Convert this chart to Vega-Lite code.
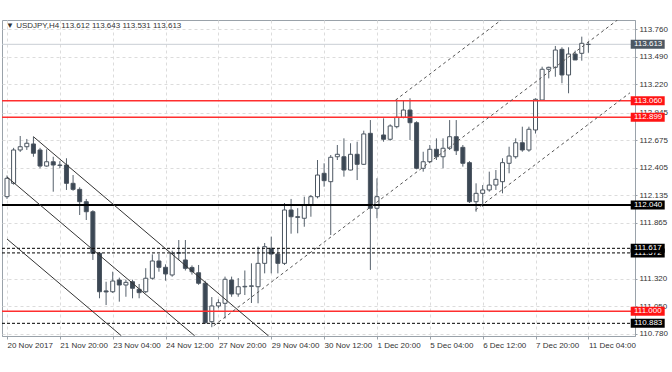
{
"$schema":"https://vega.github.io/schema/vega-lite/v6.json",
"width":633,"height":316,
"autosize":{"type":"none"},
"padding":{"left":2,"top":20,"right":37,"bottom":36},
"background":"white",
"config":{"view":{"stroke":"#9aa2aa","strokeWidth":1},"font":"Liberation Sans",
 "axis":{"grid":true,"gridDash":[3,3],"gridColor":"#dcdcdc","gridWidth":1,"labelOverlap":false,"labelFlush":false,"labelFontSize":8,"labelColor":"#333333","labelPadding":2,"domainColor":"#9aa2aa","tickColor":"#9aa2aa","title":null},
 "axisX":{"labelAlign":"left","tickSize":3},
 "axisY":{"tickSize":2,"labelOverlap":false,"labelSeparation":0}},
"title":{"text":"▼ USDJPY,H4  113.612 113.643 113.531 113.613","anchor":"start","frame":"group","offset":-10,"fontSize":8,"fontWeight":"normal","color":"#333333","dx":4,"font":"Liberation Sans"},
"datasets":{
"candles":[
{"i":0,"o":112.122,"h":112.33,"l":112.10,"c":112.302},
{"i":1,"o":112.253,"h":112.60,"l":112.24,"c":112.579},
{"i":2,"o":112.579,"h":112.716,"l":112.56,"c":112.611},
{"i":3,"o":112.611,"h":112.687,"l":112.58,"c":112.645},
{"i":4,"o":112.638,"h":112.709,"l":112.513,"c":112.547},
{"i":5,"o":112.579,"h":112.60,"l":112.40,"c":112.422},
{"i":6,"o":112.422,"h":112.586,"l":112.416,"c":112.464},
{"i":7,"o":112.464,"h":112.513,"l":112.171,"c":112.432},
{"i":8,"o":112.432,"h":112.47,"l":112.40,"c":112.428},
{"i":9,"o":112.432,"h":112.498,"l":112.188,"c":112.253},
{"i":10,"o":112.253,"h":112.334,"l":112.18,"c":112.194},
{"i":11,"o":112.194,"h":112.214,"l":111.943,"c":112.073},
{"i":12,"o":112.073,"h":112.10,"l":111.894,"c":111.975},
{"i":13,"o":111.975,"h":111.99,"l":111.503,"c":111.568},
{"i":14,"o":111.568,"h":111.58,"l":111.128,"c":111.192},
{"i":15,"o":111.20,"h":111.29,"l":111.062,"c":111.19},
{"i":16,"o":111.192,"h":111.388,"l":111.18,"c":111.297},
{"i":17,"o":111.307,"h":111.33,"l":111.095,"c":111.258},
{"i":18,"o":111.258,"h":111.31,"l":111.143,"c":111.284},
{"i":19,"o":111.29,"h":111.31,"l":111.128,"c":111.226},
{"i":20,"o":111.216,"h":111.268,"l":111.128,"c":111.183},
{"i":21,"o":111.192,"h":111.422,"l":111.18,"c":111.324},
{"i":22,"o":111.324,"h":111.558,"l":111.31,"c":111.493},
{"i":23,"o":111.493,"h":111.561,"l":111.388,"c":111.431},
{"i":24,"o":111.431,"h":111.46,"l":111.30,"c":111.366},
{"i":25,"o":111.356,"h":111.594,"l":111.339,"c":111.568},
{"i":26,"o":111.568,"h":111.698,"l":111.503,"c":111.575},
{"i":27,"o":111.503,"h":111.698,"l":111.40,"c":111.421},
{"i":28,"o":111.43,"h":111.45,"l":111.36,"c":111.388},
{"i":29,"o":111.378,"h":111.454,"l":111.26,"c":111.275},
{"i":30,"o":111.275,"h":111.30,"l":110.88,"c":110.889},
{"i":31,"o":110.899,"h":111.14,"l":110.845,"c":111.053},
{"i":32,"o":111.053,"h":111.118,"l":111.03,"c":111.085},
{"i":33,"o":111.079,"h":111.34,"l":110.93,"c":111.314},
{"i":34,"o":111.307,"h":111.34,"l":111.143,"c":111.170},
{"i":35,"o":111.17,"h":111.326,"l":111.143,"c":111.241},
{"i":36,"o":111.24,"h":111.40,"l":111.16,"c":111.245},
{"i":37,"o":111.245,"h":111.47,"l":111.082,"c":111.25},
{"i":38,"o":111.241,"h":111.633,"l":111.079,"c":111.470},
{"i":39,"o":111.470,"h":111.669,"l":111.372,"c":111.633},
{"i":40,"o":111.617,"h":111.731,"l":111.372,"c":111.561},
{"i":41,"o":111.561,"h":111.617,"l":111.372,"c":111.470},
{"i":42,"o":111.470,"h":112.06,"l":111.454,"c":111.992},
{"i":43,"o":111.992,"h":112.10,"l":111.76,"c":111.926},
{"i":44,"o":111.926,"h":112.01,"l":111.764,"c":111.92},
{"i":45,"o":111.911,"h":112.122,"l":111.828,"c":112.041},
{"i":46,"o":112.041,"h":112.139,"l":111.926,"c":112.122},
{"i":47,"o":112.122,"h":112.481,"l":112.106,"c":112.334},
{"i":48,"o":112.351,"h":112.449,"l":112.220,"c":112.279},
{"i":49,"o":112.269,"h":112.530,"l":111.747,"c":112.508},
{"i":50,"o":112.513,"h":112.628,"l":112.481,"c":112.537},
{"i":51,"o":112.513,"h":112.693,"l":112.318,"c":112.383},
{"i":52,"o":112.383,"h":112.645,"l":112.38,"c":112.537},
{"i":53,"o":112.537,"h":112.660,"l":112.285,"c":112.439},
{"i":54,"o":112.439,"h":112.768,"l":112.432,"c":112.736},
{"i":55,"o":112.742,"h":112.872,"l":111.405,"c":112.009},
{"i":56,"o":112.009,"h":112.302,"l":111.911,"c":112.122},
{"i":57,"o":112.726,"h":112.889,"l":112.660,"c":112.684},
{"i":58,"o":112.684,"h":112.83,"l":112.67,"c":112.814},
{"i":59,"o":112.807,"h":113.075,"l":112.791,"c":112.899},
{"i":60,"o":112.899,"h":113.068,"l":112.889,"c":112.970},
{"i":61,"o":112.970,"h":113.085,"l":112.677,"c":112.846},
{"i":62,"o":112.846,"h":112.86,"l":112.39,"c":112.40},
{"i":63,"o":112.400,"h":112.562,"l":112.367,"c":112.464},
{"i":64,"o":112.464,"h":112.628,"l":112.449,"c":112.586},
{"i":65,"o":112.586,"h":112.693,"l":112.481,"c":112.513},
{"i":66,"o":112.513,"h":112.693,"l":112.400,"c":112.596},
{"i":67,"o":112.596,"h":112.872,"l":112.579,"c":112.709},
{"i":68,"o":112.709,"h":112.872,"l":112.530,"c":112.572},
{"i":69,"o":112.605,"h":112.628,"l":112.416,"c":112.449},
{"i":70,"o":112.455,"h":112.47,"l":112.06,"c":112.073},
{"i":71,"o":112.073,"h":112.253,"l":111.975,"c":112.155},
{"i":72,"o":112.155,"h":112.236,"l":112.024,"c":112.188},
{"i":73,"o":112.188,"h":112.367,"l":112.171,"c":112.236},
{"i":74,"o":112.236,"h":112.383,"l":112.188,"c":112.292},
{"i":75,"o":112.269,"h":112.498,"l":112.155,"c":112.455},
{"i":76,"o":112.449,"h":112.611,"l":112.351,"c":112.520},
{"i":77,"o":112.513,"h":112.693,"l":112.494,"c":112.650},
{"i":78,"o":112.650,"h":112.807,"l":112.562,"c":112.579},
{"i":79,"o":112.579,"h":112.807,"l":112.562,"c":112.782},
{"i":80,"o":112.775,"h":113.085,"l":112.74,"c":113.075},
{"i":81,"o":113.068,"h":113.394,"l":113.068,"c":113.369},
{"i":82,"o":113.369,"h":113.394,"l":113.28,"c":113.388},
{"i":83,"o":113.388,"h":113.597,"l":113.296,"c":113.557},
{"i":84,"o":113.564,"h":113.584,"l":113.232,"c":113.313},
{"i":85,"o":113.313,"h":113.584,"l":113.134,"c":113.518},
{"i":86,"o":113.518,"h":113.551,"l":113.460,"c":113.460},
{"i":87,"o":113.525,"h":113.688,"l":113.453,"c":113.623},
{"i":88,"o":113.612,"h":113.643,"l":113.531,"c":113.613}
],
"levels":[
{"price":113.613,"kind":"bid"},
{"price":113.060,"kind":"red"},
{"price":112.899,"kind":"red"},
{"price":112.040,"kind":"bold"},
{"price":111.572,"kind":"dash"},
{"price":111.617,"kind":"dash"},
{"price":111.000,"kind":"red"},
{"price":110.883,"kind":"dash"}
],
"trend":[
{"x1":4.0,"p1":112.709,"x2":39.6,"p2":110.759,"kind":"down"},
{"x1":0,"p1":112.315,"x2":28.4,"p2":110.761,"kind":"down"},
{"x1":0,"p1":111.708,"x2":17.3,"p2":110.762,"kind":"down"},
{"x1":31.3,"p1":110.86,"x2":92.4,"p2":113.851,"kind":"up"},
{"x1":58.8,"p1":113.067,"x2":74.8,"p2":113.851,"kind":"up"},
{"x1":70.9,"p1":111.992,"x2":94.3,"p2":113.139,"kind":"up"}
]
},
"layer":[
{"data":{"name":"candles"},
 "mark":{"type":"rule","color":"#56616c","strokeWidth":1},
 "encoding":{
  "x":{"field":"i","type":"quantitative","scale":{"domain":[0,94.3],"nice":false,"zero":false},
   "axis":{"values":[0,4,8,12,16,20,24,28,32,36,40,44,48,52,56,60,64,68,72,76,80,84,88,92],
    "labelExpr":"datum.value % 8 == 0 ? ['20 Nov 2017','21 Nov 20:00','23 Nov 04:00','24 Nov 12:00','27 Nov 20:00','29 Nov 04:00','30 Nov 12:00','1 Dec 20:00','5 Dec 04:00','6 Dec 12:00','7 Dec 20:00','11 Dec 04:00'][datum.value/8] : ''",
    "tickOpacity":{"condition":{"test":"datum.value % 8 == 0","value":1},"value":0}}},
  "y":{"field":"l","type":"quantitative","scale":{"domain":[110.759,113.851],"nice":false,"zero":false},
   "axis":{"orient":"right","values":[110.78,111.05,111.32,111.865,112.135,112.405,112.675,112.945,113.22,113.49,113.76],"format":".3f","labelOverlap":false}},
  "y2":{"field":"h"}
 }},
{"data":{"name":"levels"},"transform":[{"filter":"datum.kind == 'bid'"}],
 "mark":{"type":"rule","color":"#c9cfd5","strokeWidth":1},
 "encoding":{"y":{"field":"price","type":"quantitative","scale":{"domain":[110.759,113.851],"nice":false,"zero":false},"axis":{"orient":"right","values":[110.78,111.05,111.32,111.865,112.135,112.405,112.675,112.945,113.22,113.49,113.76],"format":".3f","labelOverlap":false}}}},
{"data":{"name":"candles"},
 "mark":{"type":"bar","orient":"vertical","size":4,"stroke":"#4b5560","strokeWidth":1},
 "encoding":{
  "x":{"field":"i","type":"quantitative","scale":{"domain":[0,94.3],"nice":false,"zero":false}},
  "y":{"field":"o","type":"quantitative","scale":{"domain":[110.759,113.851],"nice":false,"zero":false},"axis":{"orient":"right","values":[110.78,111.05,111.32,111.865,112.135,112.405,112.675,112.945,113.22,113.49,113.76],"format":".3f","labelOverlap":false}},
  "y2":{"field":"c"},
  "fill":{"condition":{"test":"datum.c >= datum.o","value":"#ffffff"},"value":"#3b4754"}
 }},
{"data":{"name":"levels"},"transform":[{"filter":"datum.kind == 'red'"}],
 "mark":{"type":"rule","color":"#ff2e2e","strokeWidth":1.5},
 "encoding":{"y":{"field":"price","type":"quantitative","scale":{"domain":[110.759,113.851],"nice":false,"zero":false},"axis":{"orient":"right","values":[110.78,111.05,111.32,111.865,112.135,112.405,112.675,112.945,113.22,113.49,113.76],"format":".3f","labelOverlap":false}}}},
{"data":{"name":"levels"},"transform":[{"filter":"datum.kind == 'bold'"}],
 "mark":{"type":"rule","color":"#000000","strokeWidth":2},
 "encoding":{"y":{"field":"price","type":"quantitative","scale":{"domain":[110.759,113.851],"nice":false,"zero":false},"axis":{"orient":"right","values":[110.78,111.05,111.32,111.865,112.135,112.405,112.675,112.945,113.22,113.49,113.76],"format":".3f","labelOverlap":false}}}},
{"data":{"name":"levels"},"transform":[{"filter":"datum.kind == 'dash'"}],
 "mark":{"type":"rule","color":"#000000","strokeWidth":1,"strokeDash":[3,2]},
 "encoding":{"y":{"field":"price","type":"quantitative","scale":{"domain":[110.759,113.851],"nice":false,"zero":false},"axis":{"orient":"right","values":[110.78,111.05,111.32,111.865,112.135,112.405,112.675,112.945,113.22,113.49,113.76],"format":".3f","labelOverlap":false}}}},
{"data":{"name":"trend"},"transform":[{"filter":"datum.kind == 'down'"}],
 "mark":{"type":"rule","color":"#333333","strokeWidth":1,"clip":true},
 "encoding":{
  "x":{"field":"x1","type":"quantitative","scale":{"domain":[0,94.3],"nice":false,"zero":false}},
  "x2":{"field":"x2"},
  "y":{"field":"p1","type":"quantitative","scale":{"domain":[110.759,113.851],"nice":false,"zero":false},"axis":{"orient":"right","values":[110.78,111.05,111.32,111.865,112.135,112.405,112.675,112.945,113.22,113.49,113.76],"format":".3f","labelOverlap":false}},
  "y2":{"field":"p2"}}},
{"data":{"name":"trend"},"transform":[{"filter":"datum.kind == 'up'"}],
 "mark":{"type":"rule","color":"#555555","strokeWidth":1,"strokeDash":[3,3],"clip":true},
 "encoding":{
  "x":{"field":"x1","type":"quantitative","scale":{"domain":[0,94.3],"nice":false,"zero":false}},
  "x2":{"field":"x2"},
  "y":{"field":"p1","type":"quantitative","scale":{"domain":[110.759,113.851],"nice":false,"zero":false},"axis":{"orient":"right","values":[110.78,111.05,111.32,111.865,112.135,112.405,112.675,112.945,113.22,113.49,113.76],"format":".3f","labelOverlap":false}},
  "y2":{"field":"p2"}}},
{"data":{"name":"levels"},"transform":[{"filter":"datum.price != 111.617"}],
 "mark":{"type":"tick","orient":"horizontal","size":34,"thickness":9,"opacity":1},
 "encoding":{
  "x":{"datum":96.98,"type":"quantitative","scale":{"domain":[0,94.3],"nice":false,"zero":false}},
  "y":{"field":"price","type":"quantitative","scale":{"domain":[110.759,113.851],"nice":false,"zero":false},"axis":{"orient":"right","values":[110.78,111.05,111.32,111.865,112.135,112.405,112.675,112.945,113.22,113.49,113.76],"format":".3f","labelOverlap":false}},
  "color":{"field":"kind","type":"nominal","scale":{"domain":["bid","red","bold","dash"],"range":["#4d5863","#ff1414","#000000","#000000"]},"legend":null}}},
{"data":{"name":"levels"},"transform":[{"filter":"datum.price != 111.617"}],
 "mark":{"type":"text","align":"left","baseline":"middle","color":"#ffffff","fontSize":8},
 "encoding":{
  "x":{"datum":94.9,"type":"quantitative","scale":{"domain":[0,94.3],"nice":false,"zero":false}},
  "y":{"field":"price","type":"quantitative","scale":{"domain":[110.759,113.851],"nice":false,"zero":false},"axis":{"orient":"right","values":[110.78,111.05,111.32,111.865,112.135,112.405,112.675,112.945,113.22,113.49,113.76],"format":".3f","labelOverlap":false}},
  "text":{"field":"price","type":"quantitative","format":".3f"}}},
{"data":{"name":"levels"},"transform":[{"filter":"datum.price == 111.617"}],
 "mark":{"type":"tick","orient":"horizontal","size":34,"thickness":9,"opacity":1,"color":"#000000"},
 "encoding":{
  "x":{"datum":96.98,"type":"quantitative","scale":{"domain":[0,94.3],"nice":false,"zero":false}},
  "y":{"field":"price","type":"quantitative","scale":{"domain":[110.759,113.851],"nice":false,"zero":false},"axis":{"orient":"right","values":[110.78,111.05,111.32,111.865,112.135,112.405,112.675,112.945,113.22,113.49,113.76],"format":".3f","labelOverlap":false}}}},
{"data":{"name":"levels"},"transform":[{"filter":"datum.price == 111.617"}],
 "mark":{"type":"text","align":"left","baseline":"middle","color":"#ffffff","fontSize":8},
 "encoding":{
  "x":{"datum":94.9,"type":"quantitative","scale":{"domain":[0,94.3],"nice":false,"zero":false}},
  "y":{"field":"price","type":"quantitative","scale":{"domain":[110.759,113.851],"nice":false,"zero":false},"axis":{"orient":"right","values":[110.78,111.05,111.32,111.865,112.135,112.405,112.675,112.945,113.22,113.49,113.76],"format":".3f","labelOverlap":false}},
  "text":{"field":"price","type":"quantitative","format":".3f"}}}
]
}
